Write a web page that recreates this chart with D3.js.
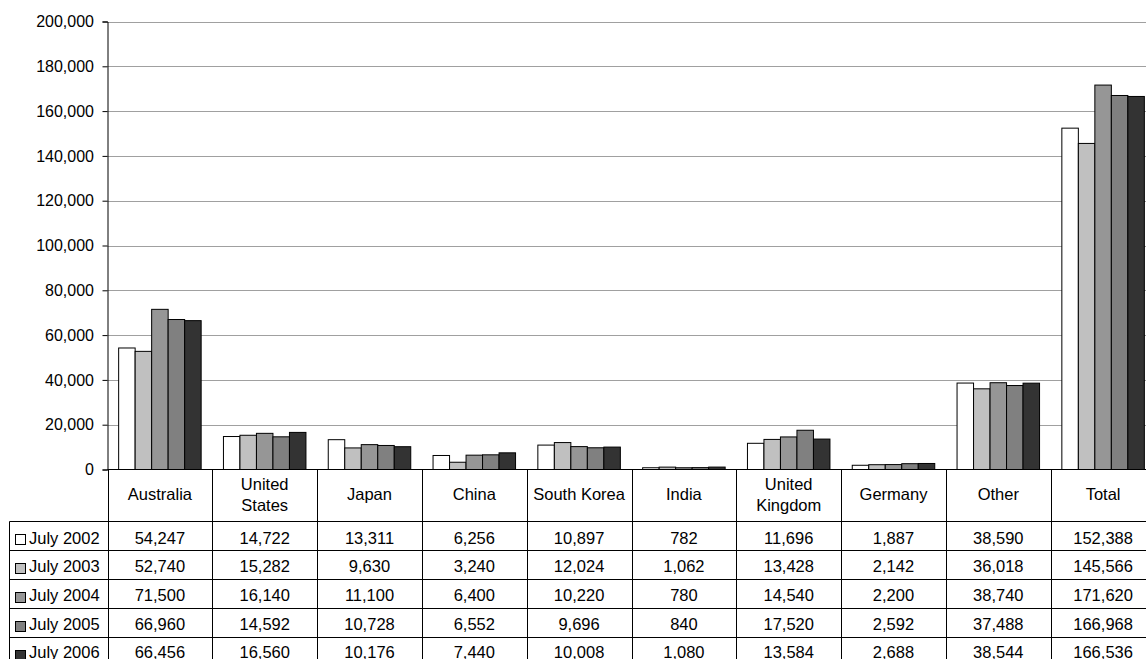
<!DOCTYPE html>
<html><head><meta charset="utf-8">
<script src="https://cdn.jsdelivr.net/npm/d3@7"></script>
<style>
html,body{margin:0;padding:0;background:#fff;}
svg{display:block;font-family:"Liberation Sans",Arial,sans-serif;}
</style></head>
<body>
<svg id="chart" width="1146" height="659"></svg>
<script>
const categories = ["Australia","United States","Japan","China","South Korea","India","United Kingdom","Germany","Other","Total"];
const categoryLines = [["Australia"],["United","States"],["Japan"],["China"],["South Korea"],["India"],["United","Kingdom"],["Germany"],["Other"],["Total"]];
const seriesNames = ["July 2002","July 2003","July 2004","July 2005","July 2006"];
const july2002 = [54247,14722,13311,6256,10897,782,11696,1887,38590,152388];
const july2003 = [52740,15282,9630,3240,12024,1062,13428,2142,36018,145566];
const july2004 = [71500,16140,11100,6400,10220,780,14540,2200,38740,171620];
const july2005 = [66960,14592,10728,6552,9696,840,17520,2592,37488,166968];
const july2006 = [66456,16560,10176,7440,10008,1080,13584,2688,38544,166536];
const seriesValues = [july2002,july2003,july2004,july2005,july2006];
const yTicks = [0,20000,40000,60000,80000,100000,120000,140000,160000,180000,200000];
const colors = ["#ffffff","#c0c0c0","#969696","#808080","#333333"];

const svg = d3.select("#chart");
const left = 107.5, colW = 104.8;
const x = d3.scaleBand().domain(categories).range([left, left + colW*10]).padding(0);
const groupW = 82.5;
const xi = d3.scaleBand().domain(seriesNames).range([(colW-groupW)/2, (colW+groupW)/2]).padding(0);
const y = d3.scaleLinear().domain([0,200000]).range([469.5, 21.5]);

// gridlines
svg.append("g").selectAll("line").data(yTicks.filter(d=>d>0)).join("line")
  .attr("x1", left).attr("x2", left + colW*10)
  .attr("y1", d=>Math.round(y(d))+0.5).attr("y2", d=>Math.round(y(d))+0.5)
  .attr("stroke","#a0a0a0").attr("stroke-width",1);

// y axis
const yAxis = d3.axisLeft(y).tickValues(yTicks).tickSize(5).tickPadding(8.5)
  .tickFormat(d3.format(","));
const ga = svg.append("g").attr("transform",`translate(${left},0)`).call(yAxis);
ga.select(".domain").attr("stroke","#000");
ga.selectAll(".tick line").attr("stroke","#000");
ga.selectAll(".tick text").attr("font-size","16px").attr("fill","#000")
  .attr("font-family","Liberation Sans, Arial, sans-serif");

// bars
const bars = [];
categories.forEach((c,ci)=>{
  seriesNames.forEach((s,si)=>{
    bars.push({c, s, si, v: seriesValues[si][ci]});
  });
});
svg.append("g").selectAll("rect").data(bars).join("rect")
  .attr("x", d=>x(d.c)+xi(d.s))
  .attr("width", xi.bandwidth())
  .attr("y", d=>y(d.v))
  .attr("height", d=>y(0)-y(d.v))
  .attr("fill", d=>colors[d.si])
  .attr("stroke","#000").attr("stroke-width",1);

// table
const headTop = 469.5, headBot = 521.5, rowH = 29;
const rowTop = i => headBot + i*rowH;
const tg = svg.append("g");
const lineColor = "#000";
const fs = "16.5px";
tg.append("line").attr("x1",left).attr("x2",left+colW*10).attr("y1",headTop).attr("y2",headTop).attr("stroke",lineColor);
for (let i=0;i<=5;i++){
  tg.append("line").attr("x1",9.5).attr("x2",left+colW*10)
    .attr("y1",rowTop(i)).attr("y2",rowTop(i)).attr("stroke",lineColor);
}
categories.forEach((c,ci)=>{
  const xx = Math.round(x(c))+0.5;
  tg.append("line").attr("x1",xx).attr("x2",xx).attr("y1",headTop).attr("y2",659).attr("stroke",lineColor);
});
tg.append("line").attr("x1",9.5).attr("x2",9.5).attr("y1",headBot).attr("y2",659).attr("stroke",lineColor);

// header labels
categories.forEach((c,ci)=>{
  const lines = categoryLines[ci];
  const cx = x(c)+colW/2;
  const t = tg.append("text").attr("x",cx).attr("text-anchor","middle")
    .attr("font-size",fs).attr("fill","#000");
  lines.forEach((ln,li)=>{
    const base = lines.length === 1 ? 499.5 : 490 + li*21;
    t.append("tspan").attr("x",cx).attr("y", base).text(ln);
  });
});

// rows
const fmt = d3.format(",");
seriesNames.forEach((s,si)=>{
  const center = rowTop(si) + rowH/2;
  const baseY = headBot + 22 + si*28.7;
  tg.append("rect").attr("x",15.5).attr("y",Math.round(center-2)+0.5).attr("width",10).attr("height",10)
    .attr("fill",colors[si]).attr("stroke","#000").attr("stroke-width",1);
  tg.append("text").attr("x",29).attr("y",baseY).attr("font-size",fs).attr("fill","#000").text(s);
  categories.forEach((c,ci)=>{
    tg.append("text").attr("x",x(c)+colW/2).attr("y",baseY).attr("text-anchor","middle")
      .attr("font-size",fs).attr("fill","#000").text(fmt(seriesValues[si][ci]));
  });
});
</script>
</body></html>
